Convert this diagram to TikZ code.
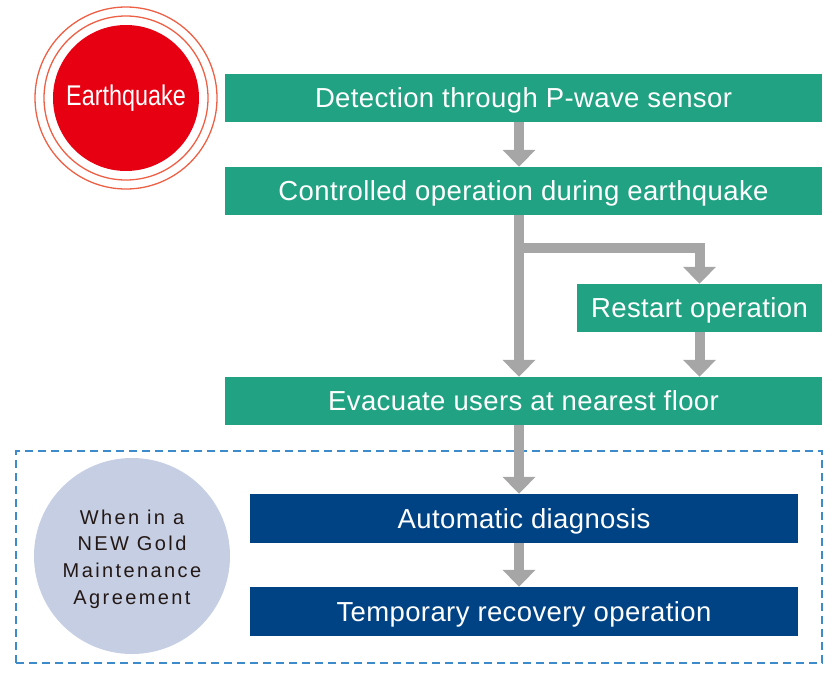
\documentclass[tikz,border=0pt]{standalone}
\usepackage{fontspec}
\setmainfont{Liberation Sans}
\usetikzlibrary{arrows.meta}
\definecolor{grn}{RGB}{33,163,131}
\definecolor{eqred}{RGB}{230,0,18}
\definecolor{ringred}{RGB}{238,96,70}
\definecolor{arrgray}{RGB}{166,166,166}
\definecolor{dblue}{RGB}{0,67,133}
\definecolor{lblue}{RGB}{197,206,227}
\definecolor{dashblue}{RGB}{61,139,203}
\definecolor{darktext}{RGB}{35,24,21}
\tikzset{
  boxtext/.style={text=white, inner sep=0pt, text height=19.7pt, text depth=0pt,
    font=\fontsize{27.5}{33}\selectfont\addfontfeature{LetterSpace=1.4}},
  greenbox/.style={boxtext, fill=grn, minimum height=48pt},
  bluebox/.style={boxtext, fill=dblue, minimum height=49pt, minimum width=548pt},
  flow/.style={draw=arrgray, line width=10pt, line join=miter,
    -{Triangle[width=32pt,length=17pt]}},
  ring/.style={draw=ringred, line width=1.3pt, circle, inner sep=0pt},
}
\begin{document}
\begin{tikzpicture}[x=1pt,y=-1pt]
\useasboundingbox (0,0) rectangle (837,672);
% earthquake
\node[ring, minimum size=182pt] (ringout) at (126,98) {};
\node[ring, minimum size=164pt] (ringin) at (126,98) {};
\node[circle, fill=eqred, minimum size=146pt, inner sep=0pt, text=white,
  font=\fontsize{28.5}{33}\selectfont\addfontfeature{FakeStretch=0.82}] (eq) at (126,98) {Earthquake};
% green boxes
\node[greenbox, minimum width=597pt] (b1) at (523.5,98) {Detection through P-wave sensor};
\node[greenbox, minimum width=597pt] (b2) at (523.5,191) {Controlled operation during earthquake};
\node[greenbox, minimum width=245pt] (rs) at (699.5,308) {Restart operation};
\node[greenbox, minimum width=597pt] (ev) at (523.5,401) {Evacuate users at nearest floor};
% dashed frame
\node[draw=dashblue, line width=1.4pt, dash pattern=on 8pt off 5pt, inner sep=0pt,
  minimum width=806pt, minimum height=212pt] (frame) at (419,557) {};
% gold circle
\node[circle, fill=lblue, minimum size=196pt, inner sep=0pt, text=darktext, align=center,
  font=\fontsize{20}{26.7}\selectfont\addfontfeature{LetterSpace=12}] (gold) at (132,556) {};
\node[text=darktext, align=center, inner sep=0pt,
  font=\fontsize{20}{26.7}\selectfont\addfontfeature{LetterSpace=12}] (goldtxt) at (gold.center)
  [yshift=-3pt] {When in a\\NEW Gold\\Maintenance\\Agreement};
% blue boxes
\node[bluebox] (ad) at (524,518.5) {Automatic diagnosis};
\node[bluebox] (tr) at (524,611.5) {Temporary recovery operation};
% arrows
\coordinate (ax) at (519,0);
\coordinate (br) at (519,248);
\draw[flow] (b1.south -| ax) -- (b2.north -| ax);
\draw[flow] (b2.south -| ax) -- (ev.north -| ax);
\draw[flow] (br) -| (rs.north);
\draw[flow] (rs.south) -- (ev.north -| rs.south);
\draw[flow] (ev.south -| ax) -- (ad.north -| ax);
\draw[flow] (ad.south -| ax) -- (tr.north -| ax);
\end{tikzpicture}
\end{document}
